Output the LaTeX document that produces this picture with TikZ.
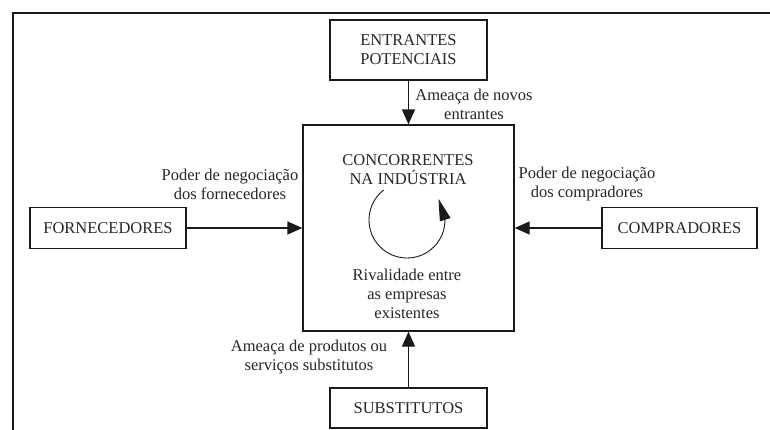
\documentclass[tikz,border=0pt]{standalone}
\usepackage{fontspec}
\setmainfont{Liberation Serif}
\usetikzlibrary{arrows.meta,bending,calc}
\definecolor{LineClr}{HTML}{1a1a1a}
\definecolor{TextClr}{HTML}{262626}

\begin{document}
\begin{tikzpicture}[x=1pt,y=-1pt,
  font=\fontsize{16.5}{19}\selectfont,text=TextClr,
  box/.style={draw=LineClr,line width=1.3pt,minimum width=157pt,minimum height=41pt,inner sep=0pt,align=center},
  force/.style={draw=LineClr,line width=1.3pt,-{Triangle[length=15pt,width=13pt]}},
  lbl/.style={align=center,inner sep=0pt}]
\useasboundingbox (0,0) rectangle (770,429);
\clip (0,0) rectangle (770,429);

\draw[LineClr,line width=2.6pt] (13,450) |- (800,13);

\node[box,minimum height=60pt] (entr) at (408.5,50) {ENTRANTES\\POTENCIAIS};
\node[box,minimum width=211pt,minimum height=206pt] (conc) at (408.5,228) {};
\node[box,minimum width=156pt] (forn) at (108,228) {FORNECEDORES};
\node[box,minimum width=155pt] (comp) at (679.5,228) {COMPRADORES};
\node[box,minimum height=40pt] (subs) at (408.5,408) {SUBSTITUTOS};

\draw[force] (entr) -- (conc);
\draw[force] (forn) -- (conc);
\draw[force] (comp) -- (conc);
\draw[force] (subs) -- (conc);

\node[lbl] (novos) at (474,104) {Ameaça de novos\\entrantes};
\node[lbl] (pforn) at (230,184) {Poder de negociação\\dos fornecedores};
\node[lbl] (pcomp) at (587,184) {Poder de negociação\\dos compradores};
\node[lbl] (prod) at (309,357) {Ameaça de produtos ou\\serviços substitutos};
\node[lbl] (titulo) at (408,170) {CONCORRENTES\\NA INDÚSTRIA};
\node[lbl] (rival) at (407,294) {Rivalidade entre\\as empresas\\existentes};

\coordinate (rot) at (407,220);
\draw[LineClr,line width=0.9pt,-{Triangle[flex,length=22pt,width=11pt]}]
  ([shift={(-128:38)}]rot) arc[start angle=-128,end angle=-394,radius=38];

\end{tikzpicture}
\end{document}
